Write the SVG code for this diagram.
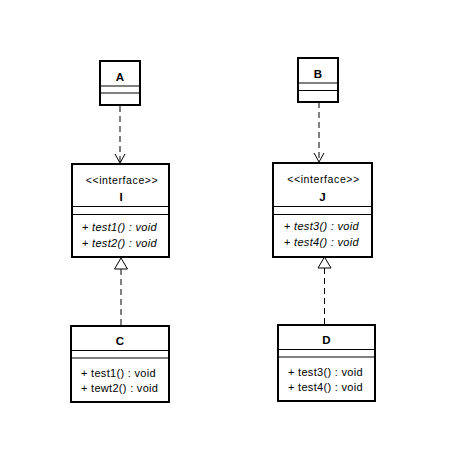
<svg xmlns="http://www.w3.org/2000/svg" width="454" height="452" viewBox="0 0 454 452">
<style>
.box{fill:#fff;stroke:#000;stroke-width:2}
.div{stroke:#000;stroke-width:1}
text{font-family:"Liberation Sans",Arial,sans-serif;font-size:11px;fill:#000}
.name{font-weight:bold;text-anchor:middle;font-size:11.5px}
.st{text-anchor:middle;font-size:10.5px;letter-spacing:0.6px}
.m{font-size:11px;letter-spacing:0.3px}
.it{font-style:italic}
.dash{stroke:#000;stroke-width:1;stroke-dasharray:6,4;fill:none}
.head{stroke:#000;stroke-width:1;fill:none}
.tri{stroke:#000;stroke-width:1;fill:#fff}
</style>
<rect width="454" height="452" fill="#fff"/>
<g id="connectors">
<line class="dash" x1="120" y1="106" x2="120" y2="163"/>
<polyline class="head" points="115,154 120,163 125,154"/>
<line class="dash" x1="319" y1="102" x2="319" y2="162"/>
<polyline class="head" points="314,153 319,162 324,153"/>
<line class="dash" x1="121" y1="269" x2="121" y2="325"/>
<polygon class="tri" points="121,258 114.5,269 127.5,269"/>
<line class="dash" x1="324.5" y1="268" x2="324.5" y2="325"/>
<polygon class="tri" points="324.5,257 318,268 331,268"/>
</g>
<g id="A">
<rect class="box" x="100" y="61" width="40" height="44"/>
<line class="div" x1="100" y1="86" x2="140" y2="86"/>
<line class="div" x1="100" y1="93" x2="140" y2="93"/>
<text class="name" x="120" y="81">A</text>
</g>
<g id="B">
<rect class="box" x="298" y="58" width="40" height="44"/>
<line class="div" x1="298" y1="83" x2="338" y2="83"/>
<line class="div" x1="298" y1="90.5" x2="338" y2="90.5"/>
<text class="name" x="318" y="78">B</text>
</g>
<g id="I">
<rect class="box" x="72" y="164" width="97" height="93"/>
<line class="div" x1="72" y1="206.5" x2="169" y2="206.5"/>
<line class="div" x1="72" y1="214.5" x2="169" y2="214.5"/>
<text class="st" x="122" y="184">&lt;&lt;interface&gt;&gt;</text>
<text class="name" x="121" y="201">I</text>
<text class="m" x="82" y="231">+ <tspan class="it">test1() : void</tspan></text>
<text class="m" x="82" y="247">+ <tspan class="it">test2() : void</tspan></text>
</g>
<g id="J">
<rect class="box" x="273" y="163" width="99" height="94"/>
<line class="div" x1="273" y1="206.5" x2="372" y2="206.5"/>
<line class="div" x1="273" y1="214.5" x2="372" y2="214.5"/>
<text class="st" x="323.5" y="183">&lt;&lt;interface&gt;&gt;</text>
<text class="name" x="322.5" y="201">J</text>
<text class="m" x="284" y="230">+ <tspan class="it">test3() : void</tspan></text>
<text class="m" x="284" y="246">+ <tspan class="it">test4() : void</tspan></text>
</g>
<g id="C">
<rect class="box" x="71" y="326" width="98" height="76"/>
<line class="div" x1="71" y1="350.5" x2="169" y2="350.5"/>
<line class="div" x1="71" y1="358" x2="169" y2="358"/>
<text class="name" x="120" y="345">C</text>
<text class="m" x="81" y="377">+ test1() : void</text>
<text class="m" x="81" y="392">+ tewt2() : void</text>
</g>
<g id="D">
<rect class="box" x="278" y="325" width="97" height="76"/>
<line class="div" x1="278" y1="349.5" x2="375" y2="349.5"/>
<line class="div" x1="278" y1="357" x2="375" y2="357"/>
<text class="name" x="326.5" y="344">D</text>
<text class="m" x="288" y="376">+ test3() : void</text>
<text class="m" x="288" y="391">+ test4() : void</text>
</g>
</svg>
